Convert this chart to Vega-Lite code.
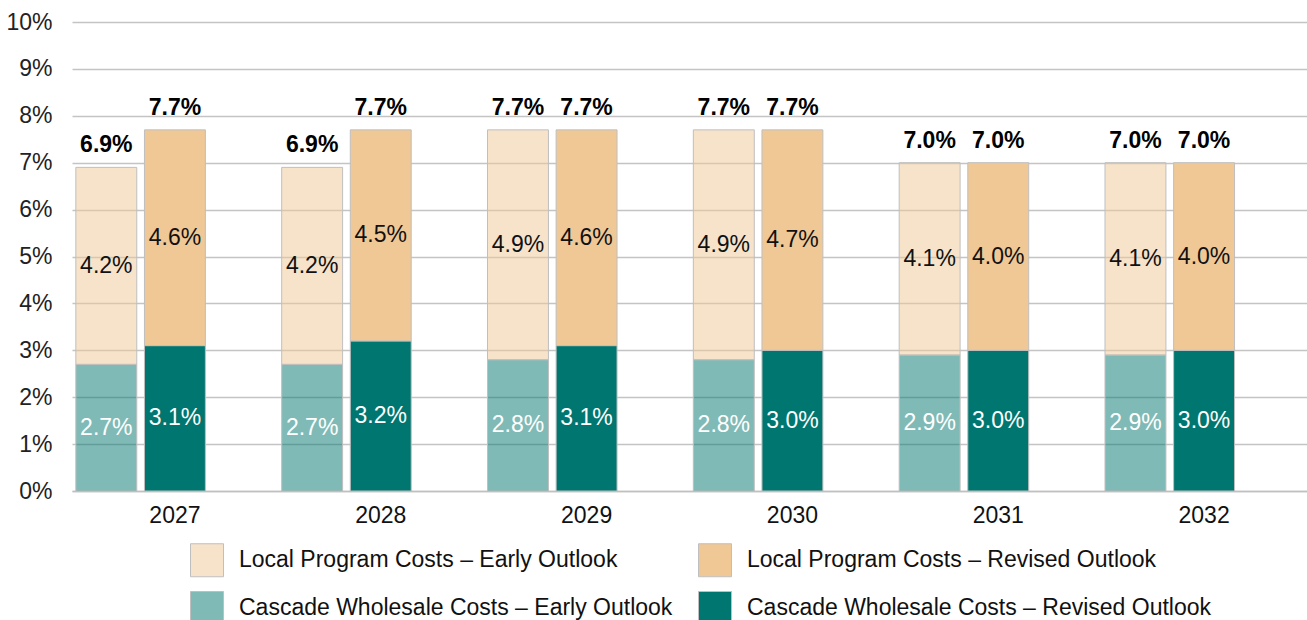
{
  "$schema": "https://vega.github.io/schema/vega-lite/v6.json",
  "width": 1235,
  "height": 469,
  "autosize": {"type": "none"},
  "padding": {"left": 72, "top": 22, "right": 0, "bottom": 129},
  "background": "white",
  "config": {
    "font": "Liberation Sans",
    "view": {"stroke": null},
    "axisY": {"labelFontSize": 23, "labelColor": "#222222", "gridColor": "#c4c4c4", "gridWidth": 1.5, "ticks": false, "domain": false, "labelPadding": 20, "format": ".0%", "values": [0, 0.01, 0.02, 0.03, 0.04, 0.05, 0.06, 0.07, 0.08, 0.09, 0.1], "title": null},
    "axisX": {"labelFontSize": 23, "labelColor": "#111111", "labelAngle": 0, "ticks": false, "domain": true, "domainColor": "#c0c0c0", "domainWidth": 1.5, "labelPadding": 13, "title": null}
  },
  "data": {
    "values": [
      {"year": "2027", "outlook": "Early", "component": "Cascade", "series": "Cascade Wholesale Costs – Early Outlook", "value": 0.027},
      {"year": "2027", "outlook": "Early", "component": "Local", "series": "Local Program Costs – Early Outlook", "value": 0.042},
      {"year": "2027", "outlook": "Revised", "component": "Cascade", "series": "Cascade Wholesale Costs – Revised Outlook", "value": 0.031},
      {"year": "2027", "outlook": "Revised", "component": "Local", "series": "Local Program Costs – Revised Outlook", "value": 0.046},
      {"year": "2028", "outlook": "Early", "component": "Cascade", "series": "Cascade Wholesale Costs – Early Outlook", "value": 0.027},
      {"year": "2028", "outlook": "Early", "component": "Local", "series": "Local Program Costs – Early Outlook", "value": 0.042},
      {"year": "2028", "outlook": "Revised", "component": "Cascade", "series": "Cascade Wholesale Costs – Revised Outlook", "value": 0.032},
      {"year": "2028", "outlook": "Revised", "component": "Local", "series": "Local Program Costs – Revised Outlook", "value": 0.045},
      {"year": "2029", "outlook": "Early", "component": "Cascade", "series": "Cascade Wholesale Costs – Early Outlook", "value": 0.028},
      {"year": "2029", "outlook": "Early", "component": "Local", "series": "Local Program Costs – Early Outlook", "value": 0.049},
      {"year": "2029", "outlook": "Revised", "component": "Cascade", "series": "Cascade Wholesale Costs – Revised Outlook", "value": 0.031},
      {"year": "2029", "outlook": "Revised", "component": "Local", "series": "Local Program Costs – Revised Outlook", "value": 0.046},
      {"year": "2030", "outlook": "Early", "component": "Cascade", "series": "Cascade Wholesale Costs – Early Outlook", "value": 0.028},
      {"year": "2030", "outlook": "Early", "component": "Local", "series": "Local Program Costs – Early Outlook", "value": 0.049},
      {"year": "2030", "outlook": "Revised", "component": "Cascade", "series": "Cascade Wholesale Costs – Revised Outlook", "value": 0.030},
      {"year": "2030", "outlook": "Revised", "component": "Local", "series": "Local Program Costs – Revised Outlook", "value": 0.047},
      {"year": "2031", "outlook": "Early", "component": "Cascade", "series": "Cascade Wholesale Costs – Early Outlook", "value": 0.029},
      {"year": "2031", "outlook": "Early", "component": "Local", "series": "Local Program Costs – Early Outlook", "value": 0.041},
      {"year": "2031", "outlook": "Revised", "component": "Cascade", "series": "Cascade Wholesale Costs – Revised Outlook", "value": 0.030},
      {"year": "2031", "outlook": "Revised", "component": "Local", "series": "Local Program Costs – Revised Outlook", "value": 0.040},
      {"year": "2032", "outlook": "Early", "component": "Cascade", "series": "Cascade Wholesale Costs – Early Outlook", "value": 0.029},
      {"year": "2032", "outlook": "Early", "component": "Local", "series": "Local Program Costs – Early Outlook", "value": 0.041},
      {"year": "2032", "outlook": "Revised", "component": "Cascade", "series": "Cascade Wholesale Costs – Revised Outlook", "value": 0.030},
      {"year": "2032", "outlook": "Revised", "component": "Local", "series": "Local Program Costs – Revised Outlook", "value": 0.040}
    ]
  },
  "encoding": {
    "x": {"field": "year", "type": "nominal", "scale": {"paddingInner": 0, "paddingOuter": 0}},
    "xOffset": {"field": "outlook", "type": "nominal", "scale": {"domain": ["Early", "Revised", "Gap"], "paddingInner": 0.112, "paddingOuter": 0.056}}
  },
  "layer": [
    {
      "mark": {"type": "bar", "stroke": "#bfbfbf", "strokeWidth": 1},
      "encoding": {
        "y": {"field": "value", "type": "quantitative", "stack": "zero", "scale": {"domain": [0, 0.1]}, "title": null},
        "color": {
          "field": "series",
          "type": "nominal",
          "scale": {
            "domain": ["Local Program Costs – Early Outlook", "Local Program Costs – Revised Outlook", "Cascade Wholesale Costs – Early Outlook", "Cascade Wholesale Costs – Revised Outlook"],
            "range": ["rgba(239,200,150,0.5)", "#efc896", "rgba(0,118,112,0.5)", "#007670"]
          },
          "legend": {"orient": "none", "legendX": 118, "legendY": 521, "direction": "horizontal", "columns": 2, "title": null, "symbolType": "square", "symbolSize": 1089, "labelFontSize": 23, "labelColor": "#111111", "labelOffset": 15, "columnPadding": 23, "rowPadding": 10, "symbolStrokeColor": "#bfbfbf", "symbolStrokeWidth": 1, "labelLimit": 0}
        },
        "order": {"field": "component", "sort": "ascending"}
      }
    },
    {
      "mark": {"type": "text", "fontSize": 23, "baseline": "middle"},
      "encoding": {
        "y": {"field": "value", "type": "quantitative", "stack": "zero", "bandPosition": 0.5, "title": null},
        "detail": {"field": "component"},
        "order": {"field": "component", "sort": "ascending"},
        "text": {"field": "value", "format": ".1%"},
        "color": {"condition": {"test": "datum.component === 'Cascade'", "value": "#ffffff"}, "value": "#111111"}
      }
    },
    {
      "transform": [{"aggregate": [{"op": "sum", "field": "value", "as": "total"}], "groupby": ["year", "outlook"]}],
      "mark": {"type": "text", "fontSize": 23, "fontWeight": "bold", "baseline": "middle", "dy": -22, "color": "#000000"},
      "encoding": {
        "y": {"field": "total", "type": "quantitative", "title": null},
        "text": {"field": "total", "format": ".1%"}
      }
    }
  ]
}
